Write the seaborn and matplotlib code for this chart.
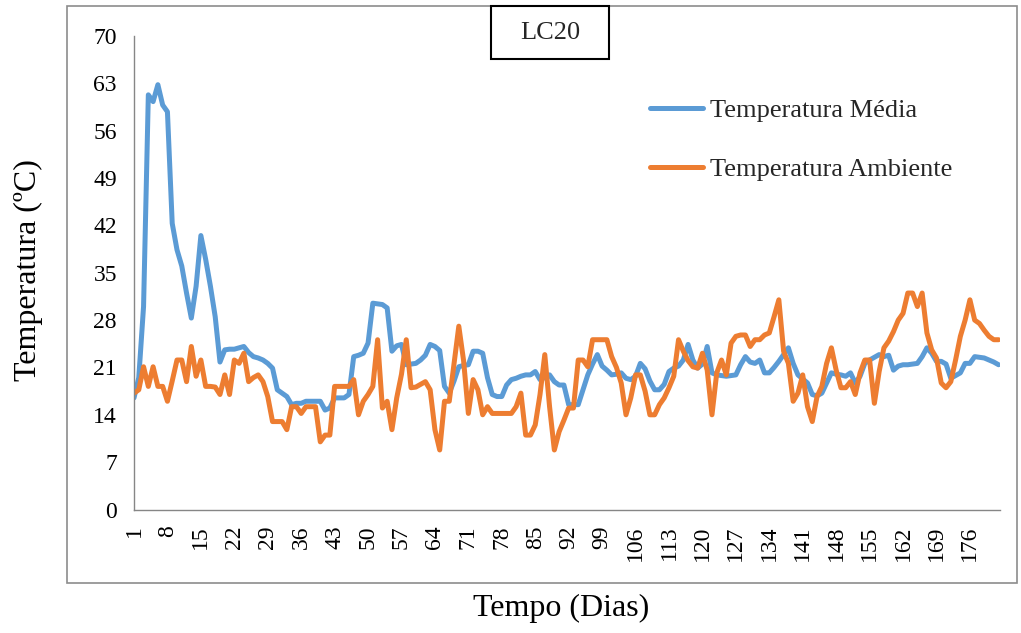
import numpy as np
import pandas as pd
import matplotlib
matplotlib.use("Agg")
import matplotlib.pyplot as plt
import seaborn as sns
from matplotlib.patches import Rectangle

# Daily temperatures of compost pile LC20 (days 1-182)
temp_media = [
    16.5, 19.5, 30, 61.3, 60.3, 62.8, 59.8, 58.8, 42.3, 38.4,
    36, 32, 28.3, 33, 40.5, 37, 33, 28.5, 21.8, 23.6,
    23.7, 23.7, 23.9, 24.1, 23.2, 22.6, 22.4, 22.1, 21.6, 20.9,
    17.7, 17.2, 16.7, 15.5, 15.7, 15.7, 16, 16, 16, 16,
    14.7, 15, 16.5, 16.5, 16.5, 17, 22.6, 22.8, 23.1, 24.6,
    30.5, 30.4, 30.3, 29.8, 23.4, 24.2, 24.4, 21.4, 21.5, 21.6,
    22.1, 22.8, 24.4, 24.1, 23.5, 18.2, 17.2, 19, 21.1, 21.3,
    21.4, 23.4, 23.4, 23.1, 19.5, 17, 16.7, 16.7, 18.4, 19.2,
    19.4, 19.7, 19.9, 19.9, 20.4, 19.2, 19.5, 19.9, 18.9, 18.4,
    18.4, 15.5, 15.5, 15.5, 17.7, 19.9, 21.5, 22.9, 21.2, 20.6,
    19.9, 20, 20.2, 19.4, 19.2, 19.7, 21.6, 20.8, 19, 17.7,
    17.7, 18.5, 20.4, 20.9, 21.2, 22.1, 24.4, 22.1, 20.9, 21.5,
    24.1, 20.2, 19.9, 19.8, 19.7, 19.8, 19.9, 21.4, 22.6, 21.8,
    21.6, 22.1, 20.2, 20.2, 21, 21.9, 22.9, 23.9, 21.6, 19.9,
    19.3, 18.7, 17, 16.8, 17.2, 18.7, 20.2, 20, 19.9, 19.7,
    20.2, 18.7, 19.7, 21.6, 22.1, 22.5, 22.9, 22.6, 22.8, 20.6,
    21.2, 21.4, 21.4, 21.5, 21.6, 22.6, 23.9, 23.1, 21.9, 21.9,
    21.5, 19.4, 19.8, 20.2, 21.6, 21.6, 22.6, 22.5, 22.4, 22.1,
    21.8, 21.4,
]

temp_ambiente = [
    17.2, 17.7, 21.1, 18.2, 21.1, 18.2, 18.2, 16, 19, 22.1,
    22.1, 18.9, 24.1, 19.7, 22.1, 18.2, 18.2, 18.1, 17, 19.9,
    17, 22.1, 21.6, 23.1, 18.9, 19.5, 19.9, 18.9, 16.7, 13,
    13, 13, 11.8, 15.2, 15.2, 14.2, 15.2, 15.2, 15.2, 10,
    11, 11, 18.2, 18.2, 18.2, 18.2, 19.2, 14, 16, 17,
    18.2, 25.1, 15, 16, 11.8, 16.5, 20, 25.1, 18, 18.1,
    18.5, 18.9, 17.7, 11.8, 8.8, 16, 16, 21.5, 27.1, 22,
    14.2, 19.2, 17.7, 14, 15.2, 14.2, 14.2, 14.2, 14.2, 14.2,
    15.2, 17.2, 11, 11, 12.5, 17, 22.9, 15.2, 8.8, 11.5,
    13.2, 15, 15, 22.1, 22.1, 21.1, 25.1, 25.1, 25.1, 25.1,
    22.6, 21, 18.7, 14, 16.5, 19.9, 19.9, 17.5, 14, 14,
    15.5, 16.5, 18, 19.7, 25.1, 23.4, 22, 21.1, 20.9, 23.1,
    20.6, 14, 20.2, 22.1, 19.9, 24.6, 25.6, 25.8, 25.8, 24.1,
    25.1, 25.1, 25.8, 26.1, 28.5, 31, 23.4, 21.6, 16, 17.2,
    19.9, 15.2, 13, 16.7, 18.2, 21.6, 23.9, 20.6, 18, 18,
    18.9, 17, 20.2, 22.1, 22.1, 15.7, 20.4, 23.9, 24.9, 26.3,
    28, 29, 32, 32, 30, 32, 26.1, 23.6, 22.4, 18.7,
    18, 18.9, 22.1, 25.6, 28, 31, 28, 27.5, 26.5, 25.6,
    25.1, 25.1,
]

dias = list(range(1, len(temp_media) + 1))
series_names = ["Temperatura Média", "Temperatura Ambiente"]
x_ticks = list(range(1, 182, 7))
y_ticks = list(range(0, 71, 7))

BLUE = "#5B9BD5"
ORANGE = "#ED7D31"
GREY = "#868686"

df = pd.DataFrame({
    "Dia": dias + dias,
    "Temperatura": temp_media + temp_ambiente,
    "Série": [series_names[0]] * len(dias) + [series_names[1]] * len(dias),
})

sns.set_theme(style="white")
plt.rcParams["font.family"] = ["Liberation Serif", "DejaVu Serif"]

W, H = 1021, 633
fig = plt.figure(figsize=(W / 100, H / 100), dpi=100)
ax = fig.add_axes([134 / W, 1 - 509.5 / H, 866 / W, 473.5 / H])

sns.lineplot(
    data=df, x="Dia", y="Temperatura", hue="Série",
    hue_order=series_names, palette=[BLUE, ORANGE],
    linewidth=3.6, errorbar=None, ax=ax,
    solid_joinstyle="round", solid_capstyle="round",
)

ax.set_xlim(1, 182.3)
ax.set_ylim(0, 70)
ax.set_xticks(x_ticks)
ax.set_xticklabels([str(t) for t in x_ticks], rotation=90)
ax.set_yticks(y_ticks)
ax.set_yticklabels([str(t) for t in y_ticks])

for side in ("top", "right"):
    ax.spines[side].set_visible(False)
for side in ("left", "bottom"):
    ax.spines[side].set_color(GREY)
    ax.spines[side].set_linewidth(1.0)

ax.tick_params(axis="both", which="major", direction="out", length=5.8,
               width=0.8, color=GREY, labelsize=17, labelcolor="black")
ax.tick_params(axis="y", pad=6.5)
ax.tick_params(axis="x", pad=5.5)

ax.set_xlabel("Tempo (Dias)", fontsize=23, color="black")
ax.xaxis.set_label_coords((561 - 134) / 866, (509.5 - 608) / 473.5)
ax.xaxis.label.set_va("center")
ax.set_ylabel("Temperatura (ºC)", fontsize=23, color="black")
ax.yaxis.set_label_coords((28 - 134) / 866, (509.5 - 270) / 473.5)
ax.yaxis.label.set_va("center")

handles, labels = ax.get_legend_handles_labels()
for h in handles:
    h.set_linewidth(3.6)
ax.legend(handles, labels, loc="center left",
          bbox_to_anchor=(650 / W, 1 - 140 / H), bbox_transform=fig.transFigure,
          frameon=False, fontsize=19, handlelength=2.0, handletextpad=0.27,
          labelspacing=1.35, borderpad=0, borderaxespad=0)

# chart area border
fig.add_artist(Rectangle((67 / W, 1 - 583 / H), (1017 - 67) / W, (583 - 6) / H,
                         transform=fig.transFigure, fill=False,
                         edgecolor="#8C8C8C", linewidth=1.2))

# pile identifier box
fig.add_artist(Rectangle((491 / W, 1 - 59 / H), (609 - 491) / W, (59 - 6) / H,
                         transform=fig.transFigure, fill=False,
                         edgecolor="black", linewidth=1.5))
fig.text(550 / W, 1 - 33 / H, "LC20", fontsize=19, ha="center", va="center")

fig.savefig("out.png", dpi=100)
